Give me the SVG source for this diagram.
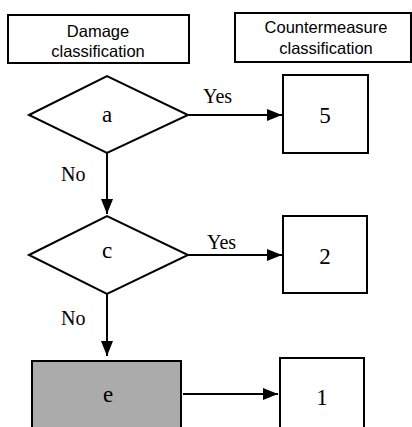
<svg xmlns="http://www.w3.org/2000/svg" width="412" height="427" viewBox="0 0 412 427">
<style>
.box{fill:#fff;stroke:#000;stroke-width:2}
.hdr{font-family:"Liberation Sans",Arial,sans-serif;font-size:16.5px;text-anchor:middle;fill:#000}
.lbl{font-family:"Liberation Serif","Times New Roman",serif;font-size:23px;text-anchor:middle;fill:#000}
.edge{font-family:"Liberation Serif","Times New Roman",serif;font-size:20px;fill:#000}
.conn{stroke:#000;stroke-width:2;fill:none}
</style>
<defs>
<marker id="ah" markerWidth="15" markerHeight="12" refX="15" refY="6" orient="auto" markerUnits="userSpaceOnUse">
<path d="M0,0 L15,6 L0,12 z" fill="#000"/>
</marker>
</defs>
<rect width="412" height="427" fill="#fff"/>
<g id="hdr-damage">
<rect class="box" x="8" y="15" width="181" height="48"/>
<text class="hdr" x="98" y="37">Damage</text>
<text class="hdr" x="98" y="57">classification</text>
</g>
<g id="hdr-counter">
<rect class="box" x="235" y="13" width="176" height="49"/>
<text class="hdr" x="326" y="33" font-size="17">Countermeasure</text>
<text class="hdr" x="326" y="54">classification</text>
</g>
<g id="node-a">
<polygon class="box" points="29,115 107,76 188,115 107,153"/>
<text class="lbl" x="107" y="122">a</text>
</g>
<g id="node-5">
<rect class="box" x="283" y="75" width="85" height="78"/>
<text class="lbl" x="325" y="123">5</text>
</g>
<g id="node-c">
<polygon class="box" points="29,255 107,216 188,255 107,294"/>
<text class="lbl" x="107" y="258">c</text>
</g>
<g id="node-2">
<rect class="box" x="283" y="216" width="84" height="77"/>
<text class="lbl" x="325" y="264">2</text>
</g>
<g id="node-e">
<rect x="32" y="361" width="149" height="70" fill="#ababab" stroke="#000" stroke-width="2"/>
<text class="lbl" x="108" y="402">e</text>
</g>
<g id="node-1">
<rect class="box" x="280" y="358" width="84" height="72"/>
<text class="lbl" x="322" y="405">1</text>
</g>
<g id="connectors">
<line class="conn" x1="188" y1="115" x2="282" y2="115" marker-end="url(#ah)"/>
<text class="edge" x="203" y="103" font-size="21">Yes</text>
<line class="conn" x1="107" y1="153" x2="107" y2="214" marker-end="url(#ah)"/>
<text class="edge" x="61" y="181" font-size="22">No</text>
<line class="conn" x1="188" y1="255" x2="282" y2="255" marker-end="url(#ah)"/>
<text class="edge" x="207" y="249" font-size="21">Yes</text>
<line class="conn" x1="107" y1="294" x2="107" y2="356" marker-end="url(#ah)"/>
<text class="edge" x="61" y="325" font-size="22">No</text>
<line class="conn" x1="183" y1="394" x2="278" y2="394" marker-end="url(#ah)"/>
</g>
</svg>
